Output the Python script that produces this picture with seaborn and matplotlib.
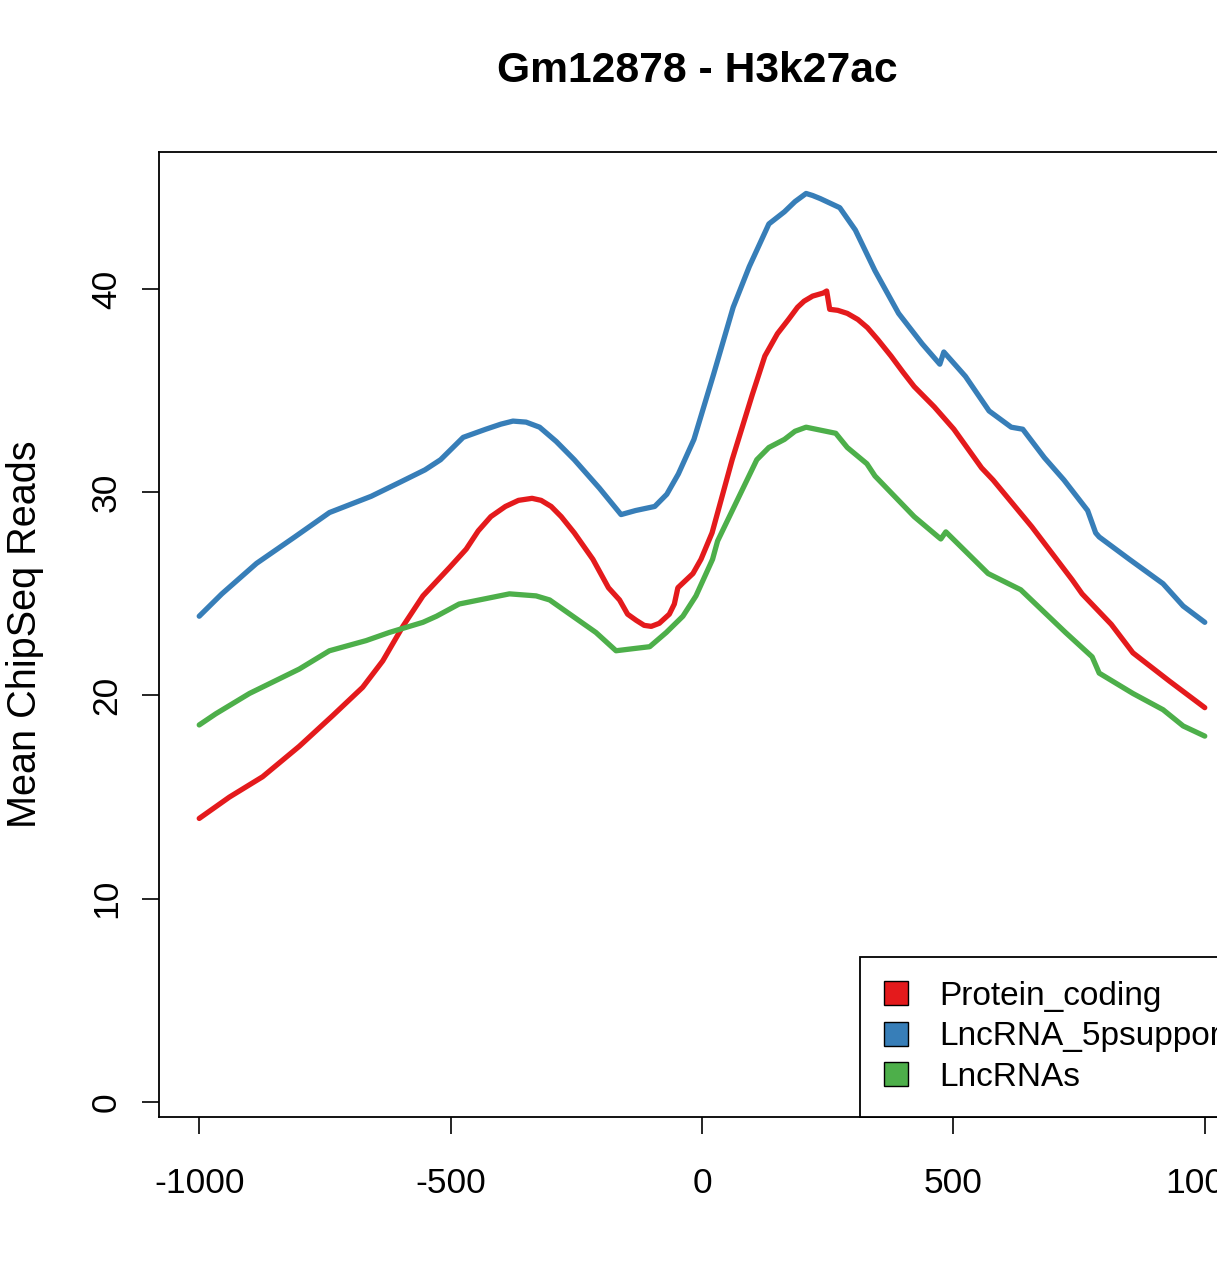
import numpy as np
import pandas as pd
import matplotlib
matplotlib.use("Agg")
import matplotlib.pyplot as plt
from matplotlib.patches import Patch
import seaborn as sns

# --- data ---
title = "Gm12878 - H3k27ac"
series_names = ["Protein_coding", "LncRNA_5psupport", "LncRNAs"]
series_colors = ["#E41A1C", "#377EB8", "#4DAF4A"]

protein_x = [-1000, -940, -874, -801, -735, -675, -635, -595, -555, -502, -469, -445,
             -420, -391, -365, -338, -320, -300, -280, -254, -217, -186, -164, -148,
             -131, -115, -101, -85, -65, -55, -48, -18, -2, 20, 40, 60, 80, 100, 125,
             150, 172, 190, 203, 220, 241, 248, 254, 270, 289, 310, 329, 350, 376,
             400, 422, 462, 501, 556, 579, 656, 736, 756, 814, 857, 930, 1000]
protein_y = [13.95, 15.0, 16.0, 17.5, 19.0, 20.4, 21.7, 23.4, 24.9, 26.3, 27.2, 28.1,
             28.8, 29.3, 29.6, 29.7, 29.6, 29.3, 28.8, 28.0, 26.7, 25.3, 24.7, 24.0,
             23.7, 23.45, 23.4, 23.55, 24.0, 24.5, 25.3, 26.0, 26.7, 28.0, 29.8, 31.6, 33.2, 34.8, 36.7,
             37.8, 38.5, 39.1, 39.4, 39.65, 39.8, 39.9, 39.0, 38.95, 38.8, 38.5, 38.1, 37.5, 36.7,
             35.9, 35.2, 34.2, 33.1, 31.2, 30.6, 28.3, 25.7, 25.0, 23.5, 22.1, 20.7, 19.4]

lnc5p_x = [-1000, -955, -886, -810, -741, -658, -600, -551, -520, -475, -430, -400,
           -376, -350, -323, -290, -254, -204, -161, -132, -94, -70, -47, -16, 23, 62,
           94, 133, 164, 185, 207, 220, 235, 274, 305, 344, 391, 438, 473, 481, 524,
           571, 615, 638, 681, 720, 767, 783, 790, 850, 917, 957, 1000]
lnc5p_y = [23.9, 25.0, 26.5, 27.8, 29.0, 29.8, 30.5, 31.1, 31.6, 32.7, 33.1, 33.35,
           33.5, 33.45, 33.2, 32.5, 31.6, 30.2, 28.9, 29.1, 29.3, 29.9, 30.9, 32.6, 35.8, 39.1,
           41.1, 43.2, 43.8, 44.3, 44.7, 44.6, 44.45, 44.0, 42.9, 40.9, 38.8, 37.3, 36.3, 36.9, 35.7,
           34.0, 33.2, 33.1, 31.7, 30.6, 29.1, 28.0, 27.8, 26.7, 25.5, 24.4, 23.6]

lnc_x = [-1000, -967, -900, -834, -801, -741, -668, -622, -555, -528, -483, -443,
         -383, -330, -303, -257, -211, -171, -138, -104, -71, -38, -12, 21, 31, 70,
         109, 133, 164, 185, 207, 266, 289, 328, 344, 422, 470, 475, 485, 569, 634, 723,
         776, 790, 857, 917, 957, 1000]
lnc_y = [18.55, 19.1, 20.1, 20.9, 21.3, 22.2, 22.7, 23.1, 23.6, 23.9, 24.5, 24.7,
         25.0, 24.9, 24.7, 23.9, 23.1, 22.2, 22.3, 22.4, 23.1, 23.9, 24.9, 26.7, 27.6, 29.6,
         31.6, 32.2, 32.6, 33.0, 33.2, 32.9, 32.2, 31.4, 30.8, 28.8, 27.8, 27.7, 28.05, 26.0, 25.2, 23.1,
         21.9, 21.1, 20.1, 19.3, 18.5, 18.0]

x_ticks = [-1000, -500, 0, 500, 1000]
y_ticks = [0, 10, 20, 30, 40]

df = pd.concat([
    pd.DataFrame({"pos": protein_x, "reads": protein_y, "set": series_names[0]}),
    pd.DataFrame({"pos": lnc5p_x, "reads": lnc5p_y, "set": series_names[1]}),
    pd.DataFrame({"pos": lnc_x, "reads": lnc_y, "set": series_names[2]}),
], ignore_index=True)

sns.set_style("white")
plt.rcParams["font.family"] = ["Liberation Sans", "DejaVu Sans"]
plt.rcParams["text.color"] = "black"
plt.rcParams["axes.labelcolor"] = "black"

fig = plt.figure(figsize=(12.17, 12.76), dpi=100)
# axes run past the right edge of the picture, as in the cropped reference
ax = fig.add_axes([159 / 1217, 159 / 1276, 1086 / 1217, 965 / 1276])

sns.lineplot(data=df, x="pos", y="reads", hue="set", hue_order=series_names,
             palette=series_colors, sort=False, estimator=None, linewidth=3.8,
             legend=False, ax=ax, solid_capstyle="round", solid_joinstyle="round")

ax.set_xlim(-1080, 1080)
ax.set_ylim(-0.74, 46.74)
ax.set_xticks(x_ticks)
ax.set_yticks(y_ticks)
ax.set_xticklabels([str(v) for v in x_ticks])
ax.set_yticklabels([str(v) for v in y_ticks], rotation=90, va="center")
ax.tick_params(axis="both", direction="out", length=12, width=1.2, color="black",
               labelsize=25.5, labelcolor="black", left=True, bottom=True)
ax.tick_params(axis="x", pad=24)
ax.tick_params(axis="y", pad=14)
for s in ax.spines.values():
    s.set_color("black")
    s.set_linewidth(1.3)

ax.set_xlabel("")
ax.set_ylabel("Mean ChipSeq Reads", fontsize=28.5, color="black")
ax.yaxis.set_label_coords(-0.106, 0.5, transform=ax.transAxes)

fig.text(697 / 1217, 1 - 71 / 1276, title, ha="center", va="center",
         fontsize=30.7, fontweight="bold", color="black")

handles = [Patch(facecolor=c, edgecolor="black", linewidth=1.0) for c in series_colors]
leg = ax.legend(handles, series_names, loc="lower right", bbox_to_anchor=(1.009, 0.0),
                fontsize=24, frameon=True, fancybox=False, framealpha=1,
                edgecolor="black", borderaxespad=0, borderpad=0.72,
                handlelength=0.72, handleheight=0.72, handletextpad=0.95,
                labelspacing=0.29)
leg.get_frame().set_linewidth(1.3)
for t in leg.get_texts():
    t.set_color("black")

fig.savefig("out.png", dpi=100, facecolor="white")
